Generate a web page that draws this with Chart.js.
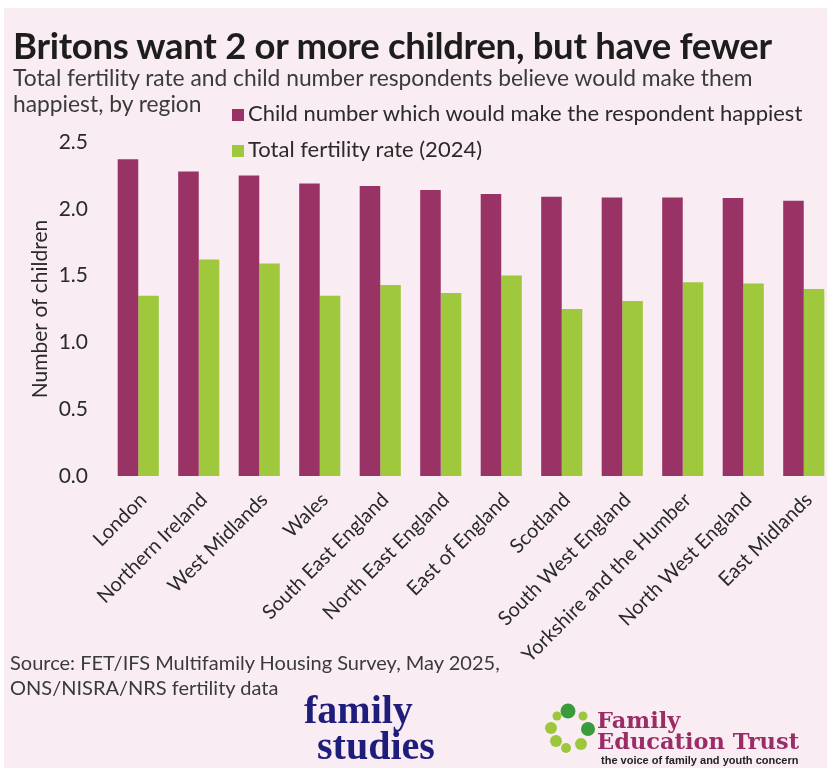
<!DOCTYPE html>
<html>
<head>
<meta charset="utf-8">
<script src="https://cdn.jsdelivr.net/npm/chart.js@4.4.1/dist/chart.umd.min.js"></script>
<style>
  html, body { margin: 0; padding: 0; overflow: hidden; background: #fff; }
  body { width: 827px; height: 780px; position: relative; font-family: Lato, "Open Sans", sans-serif; }
  .panel { position: absolute; left: 4px; top: 8px; width: 823px; height: 760px; background: #f9edf3; }
  .title { position: absolute; left: 13px; top: 23px; font-size: 36.5px; font-weight: 700; color: #1d1d1d; white-space: nowrap; letter-spacing: -0.3px; }
  .subtitle { position: absolute; left: 13px; top: 64px; font-size: 22.8px; color: #3a3a3a; line-height: 26px; white-space: nowrap; }
  .legend { position: absolute; left: 232px; top: 100px; font-size: 22px; color: #2a2a2a; }
  .legend div { height: 36px; line-height: 26px; white-space: nowrap; }
  .legend span.sw { display: inline-block; width: 12px; height: 12px; margin-right: 4px; }
  #chart-wrap { position: absolute; left: 0; top: 0; width: 840px; height: 780px; }
  .source { position: absolute; left: 10px; top: 650px; font-size: 20px; color: #3a3a3a; line-height: 25px; white-space: nowrap; }
  .fs { position: absolute; font-family: "Liberation Serif", serif; font-weight: bold; color: #1f1d7c; font-size: 40px; line-height: 36px; white-space: nowrap; }
  .fet { position: absolute; left: 597px; top: 710px; font-family: "DejaVu Serif", serif; color: #9b2c66; font-size: 22.5px; line-height: 21px; font-weight: bold; white-space: nowrap; }
  .fet-tag { position: absolute; left: 601px; top: 754px; font-family: "Liberation Sans", sans-serif; font-weight: bold; font-size: 11px; color: #222; white-space: nowrap; }
  .dots { position: absolute; left: 541px; top: 701px; }
</style>
</head>
<body>
<div class="panel"></div>
<div id="chart-wrap"><canvas id="fertility-chart" width="840" height="780"></canvas></div>
<div class="title">Britons want 2 or more children, but have fewer</div>
<div class="subtitle">Total fertility rate and child number respondents believe would make them<br>happiest, by region</div>
<div class="legend" id="legend"></div>
<div class="source">Source: FET/IFS Multifamily Housing Survey, May 2025,<br>ONS/NISRA/NRS fertility data</div>
<div class="fs" style="left:304px; top:692px;">family</div>
<div class="fs" style="left:317px; top:728px;">studies</div>
<svg class="dots" width="60" height="60" viewBox="0 0 60 60">
  <circle cx="16" cy="15" r="4.5" fill="#9cc73d"/>
  <circle cx="27" cy="10" r="7.5" fill="#3b9a3b"/>
  <circle cx="42" cy="15" r="4.5" fill="#9cc73d"/>
  <circle cx="47" cy="28" r="7" fill="#3b9a3b"/>
  <circle cx="10" cy="27" r="6" fill="#9cc73d"/>
  <circle cx="15" cy="40" r="6" fill="#9cc73d"/>
  <circle cx="25" cy="47" r="5" fill="#9cc73d"/>
  <circle cx="40" cy="43" r="6" fill="#9cc73d"/>
</svg>
<div class="fet">Family<br>Education Trust</div>
<div class="fet-tag">the voice of family and youth concern</div>

<script>
// regions, left to right
const regions = [
  'London', 'Northern Ireland', 'West Midlands', 'Wales', 'South East England',
  'North East England', 'East of England', 'Scotland', 'South West England',
  'Yorkshire and the Humber', 'North West England', 'East Midlands'
];
// child number which would make the respondent happiest
const happiestCount = [2.37, 2.28, 2.25, 2.19, 2.17, 2.14, 2.11, 2.09, 2.085, 2.085, 2.08, 2.06];
// total fertility rate (2024)
const fertilityRate = [1.35, 1.62, 1.59, 1.35, 1.43, 1.37, 1.50, 1.25, 1.31, 1.45, 1.44, 1.40];
const yTicks = [0, 0.5, 1.0, 1.5, 2.0, 2.5];

const seriesNames = ['Child number which would make the respondent happiest', 'Total fertility rate (2024)'];
const seriesColors = ['#993365', '#9fc83d'];

// legend built from the series
const legend = document.getElementById('legend');
seriesNames.forEach((name, i) => {
  const row = document.createElement('div');
  row.innerHTML = `<span class="sw" style="background:${seriesColors[i]}"></span>${name}`;
  legend.appendChild(row);
});

const ctx = document.getElementById('fertility-chart').getContext('2d');
new Chart(ctx, {
  type: 'bar',
  data: {
    labels: regions,
    datasets: [
      { label: seriesNames[0], data: happiestCount, backgroundColor: seriesColors[0] },
      { label: seriesNames[1], data: fertilityRate, backgroundColor: seriesColors[1] }
    ]
  },
  options: {
    responsive: false,
    animation: false,
    layout: { padding: { top: 142, right: 6, left: 0, bottom: 0 } },
    datasets: { bar: { categoryPercentage: 0.68, barPercentage: 1.0 } },
    plugins: { legend: { display: false }, tooltip: { enabled: false } },
    scales: {
      x: {
        grid: { display: false },
        border: { display: false },
        afterFit: (scale) => { scale.height = 304; },
        ticks: {
          autoSkip: false,
          minRotation: 45,
          maxRotation: 45,
          padding: 4,
          labelOffset: 5,
          color: '#2a2a2a',
          font: { family: 'Lato', size: 20 }
        }
      },
      y: {
        min: 0,
        max: 2.5,
        grid: { display: false },
        border: { display: false },
        afterFit: (scale) => { scale.width = 108; },
        afterBuildTicks: (scale) => { scale.ticks = yTicks.map(v => ({ value: v })); },
        title: {
          display: true,
          text: 'Number of children',
          color: '#2a2a2a',
          font: { family: 'Lato', size: 21 },
          padding: { top: 28, bottom: 0 }
        },
        ticks: {
          padding: 12,
          color: '#2a2a2a',
          font: { family: 'Lato', size: 21 },
          callback: (v) => Number(v).toFixed(1)
        }
      }
    }
  }
});
</script>
</body>
</html>
